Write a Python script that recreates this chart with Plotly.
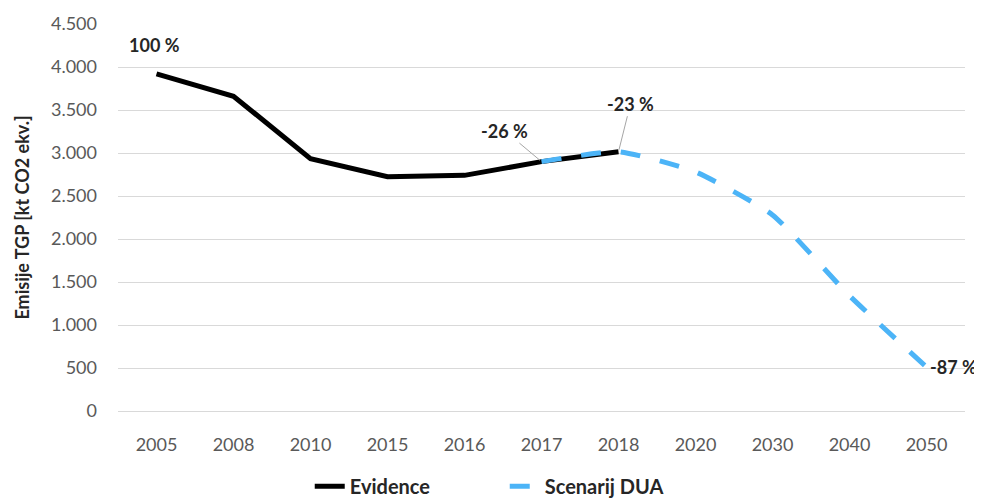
import plotly.graph_objects as go

years = ["2005", "2008", "2010", "2015", "2016", "2017", "2018", "2020", "2030", "2040", "2050"]

evidence_years = ["2005", "2008", "2010", "2015", "2016", "2017", "2018"]
evidence_vals = [3920, 3660, 2935, 2725, 2740, 2900, 3015]

scen_years = ["2017", "2018", "2020", "2030", "2040", "2050"]
scen_vals = [2900, 3015, 2780, 2280, 1340, 510]

labels_years = ["2005", "2017", "2018", "2050"]
labels_vals = [3920, 2900, 3015, 510]
labels_text = ["100 %", "-26 %", "-23 %", "-87 %"]

FONT = "Lato, 'Liberation Sans', sans-serif"

fig = go.Figure()
fig.add_trace(go.Scatter(
    x=evidence_years, y=evidence_vals,
    mode="lines", name="<b>Evidence</b>",
    line=dict(color="black", width=5),
))
fig.add_trace(go.Scatter(
    x=scen_years, y=scen_vals,
    mode="lines", name="<b>Scenarij DUA</b>",
    line=dict(color="#4CB4F7", width=5, dash="20px,20px", shape="spline", smoothing=0.5),
))

# popisky procent (x jako index kategorie, jinak by se "2005" bralo jako cislo)
pos = [years.index(y) for y in labels_years]
fig.add_annotation(x=pos[0], y=labels_vals[0], text="<b>" + labels_text[0] + "</b>",
                   showarrow=False, yshift=29, xshift=-2)
fig.add_annotation(x=pos[1], y=labels_vals[1], text="<b>" + labels_text[1] + "</b>",
                   showarrow=True, arrowhead=0, arrowwidth=1, arrowcolor="#a6a6a6",
                   ax=-37, ay=-31, standoff=2)
fig.add_annotation(x=pos[2], y=labels_vals[2], text="<b>" + labels_text[2] + "</b>",
                   showarrow=True, arrowhead=0, arrowwidth=1, arrowcolor="#a6a6a6",
                   ax=12, ay=-48, standoff=2)
fig.add_annotation(x=pos[3], y=labels_vals[3], text="<b>" + labels_text[3] + "</b>",
                   showarrow=False, xanchor="left", xshift=1)
fig.update_annotations(font=dict(family=FONT, size=18, color="#262626"))

# stranka ma 8px okraj, proto mensi rozmer a okraje
fig.update_layout(
    width=974, height=493,
    margin=dict(l=110, r=17, t=16, b=90),
    paper_bgcolor="white", plot_bgcolor="white",
    font=dict(family=FONT, size=18, color="#595959"),
    separators=",.",
    xaxis=dict(
        type="category", categoryorder="array", categoryarray=years,
        range=[-0.5, 10.5], showgrid=False, automargin=False,
        showline=True, linecolor="#d9d9d9", linewidth=1,
        ticks="", ticklabelstandoff=17,
        tickfont=dict(size=18, color="#595959"),
    ),
    yaxis=dict(
        range=[0, 4500], dtick=500, tickformat=",d", automargin=False,
        showgrid=True, gridcolor="#d9d9d9", gridwidth=1, zeroline=False,
        ticks="", ticklabelstandoff=20,
        tickfont=dict(size=18, color="#595959"),
        title=dict(text="<b>Emisije TGP [kt CO2 ekv.]</b>", font=dict(size=18, color="#262626"), standoff=16),
    ),
    legend=dict(
        orientation="h", xref="container", yref="container",
        x=0.51, xanchor="center", y=0.03, yanchor="middle",
        entrywidth=150,
        font=dict(size=20, color="#262626", family=FONT),
    ),
    showlegend=True,
)

fig.write_html("out.html")
